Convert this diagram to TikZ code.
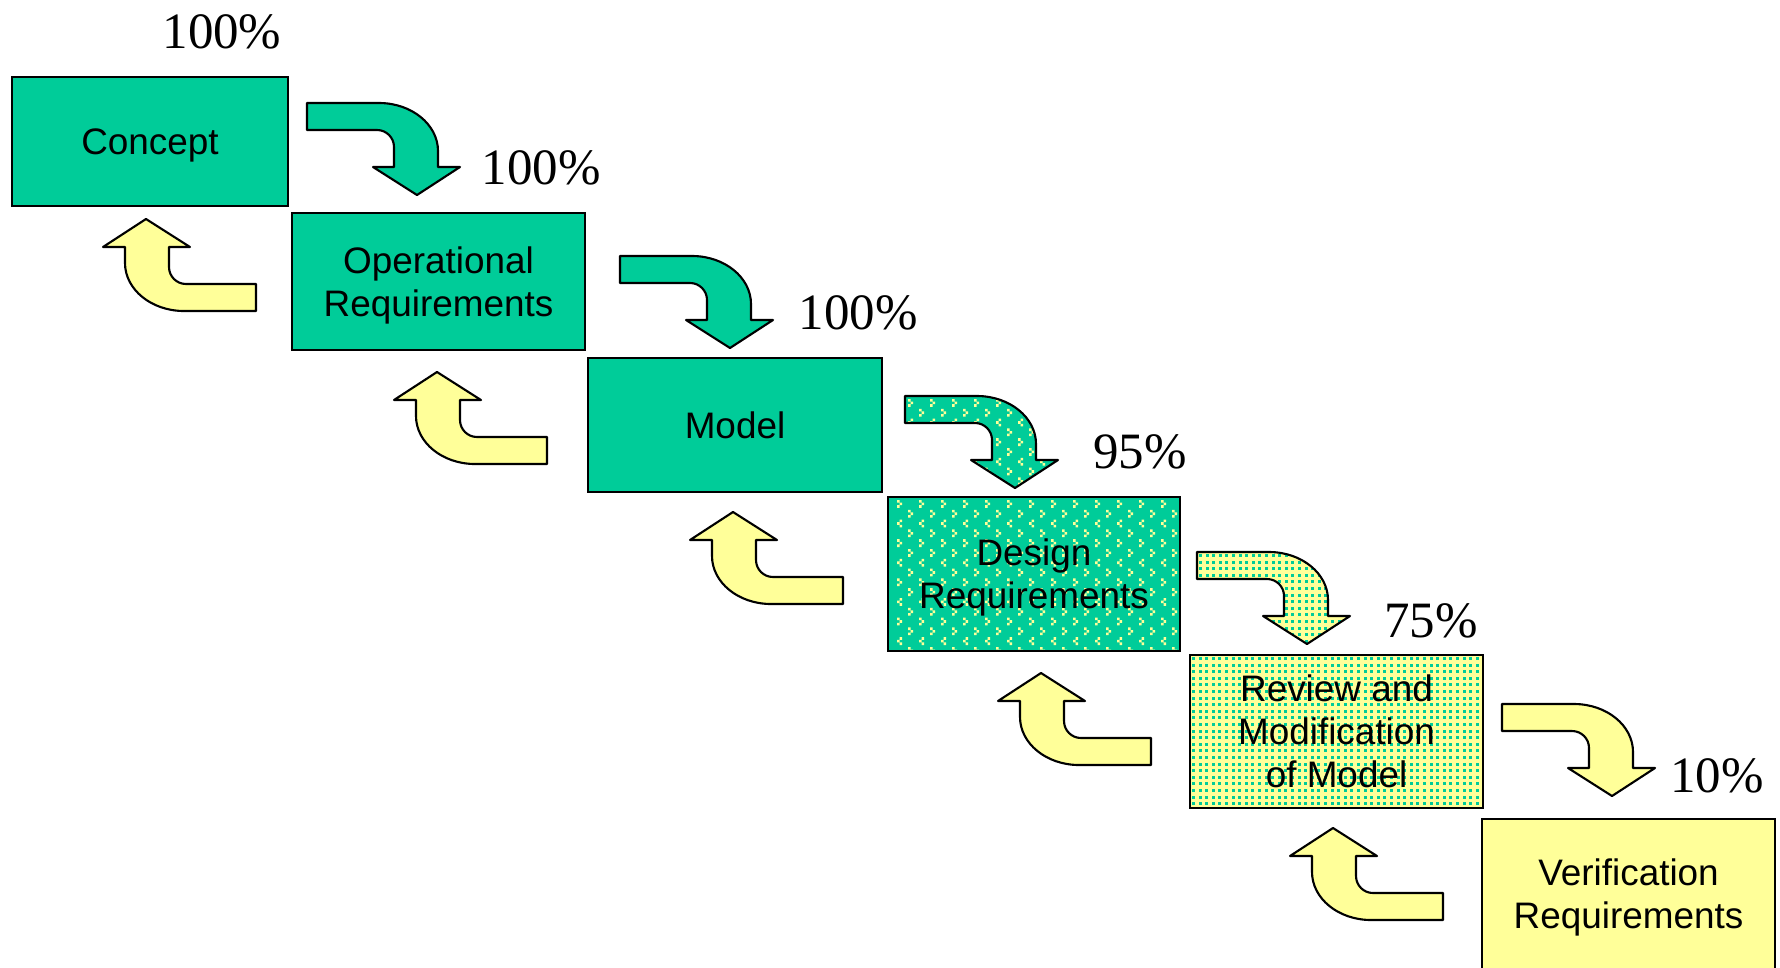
\documentclass[tikz,border=0pt]{standalone}
\usepackage{fontspec}
\setmainfont{Liberation Serif}
\setsansfont{Liberation Sans}

\definecolor{sea}{HTML}{00CC99}
\definecolor{cream}{HTML}{FFFF99}

\pgfdeclarelayer{bg}
\pgfsetlayers{bg,main}

\newcommand\boxfont{\sffamily\fontsize{21}{24.5}\selectfont}
\newcommand\pctfont{\rmfamily\fontsize{29}{34}\selectfont}

% bent arrow pointing down (local pixel units, y downwards)
\newcommand\dnarrowpath{(0,0) -- (72,0) .. controls (104.6,0) and (131,21.5) .. (131,48)
  -- (131,64) -- (153,64) -- (110,92) -- (66,64) -- (87,64) -- (87,44)
  .. controls (87,34.6) and (79.4,27) .. (70,27) -- (0,27) -- cycle}
% the same arrow turned half way round, pointing up
\newcommand\uparrowpath{(153,92) -- (81,92) .. controls (48.4,92) and (22,70.5) .. (22,44)
  -- (22,28) -- (0,28) -- (43,0) -- (87,28) -- (66,28) -- (66,48)
  .. controls (66,57.4) and (73.6,65) .. (83,65) -- (153,65) -- cycle}

% square grid of sea-green dots
\newcommand\gridDots[4]{%
  \foreach \c in {0,...,#3}{\foreach \r in {0,...,#4}{%
    \fill[sea] ({#1+\c*6.6},{#2+\r*6.6}) rectangle ++(3,3);}}}

% staggered rows of small cream chevrons
\newcommand\chevronDots[4]{%
  \foreach \r in {0,...,#4}{\foreach \c in {0,...,#3}{%
    \pgfmathsetmacro\mx{#1+\c*22+mod(\r,2)*11}%
    \pgfmathsetmacro\my{#2+\r*9.8}%
    \pgfmathtruncatemacro\kind{mod(\r,4)}%
    \ifnum\kind=2
      \fill[cream] (\mx+2.6,\my) rectangle ++(2.6,2.6)
                   (\mx,\my+2.6) rectangle ++(2.6,2.6)
                   (\mx+2.6,\my+5.2) rectangle ++(2.6,2.6);
    \else
      \fill[cream] (\mx,\my) rectangle ++(2.6,2.6)
                   (\mx+2.6,\my+2.6) rectangle ++(2.6,2.6)
                   (\mx,\my+5.2) rectangle ++(2.6,2.6);
    \fi}}}

\tikzset{
  wh/.style 2 args={minimum width={#1*0.02cm}, minimum height={#2*0.02cm}},
  stagebox/.style={draw, line width=1.1pt, inner sep=0pt, text depth=0pt,
    align=center, font=\boxfont},
  pct/.style={anchor=base, inner sep=0pt, font=\pctfont},
  arrowline/.style={draw, line width=1.2pt, line join=round},
}

\begin{document}
\begin{tikzpicture}[x=0.02cm, y=-0.02cm]
\useasboundingbox (0,0) rectangle (1780,967);
\begin{pgfonlayer}{bg}
  \fill[white] (0,0) rectangle (1780,967);
\end{pgfonlayer}
\clip (0,0) rectangle (1780,967);

% ---- stages ----
\node[stagebox, fill=sea, wh={276}{129}] (concept) at (150,141.5) {Concept};
\node[stagebox, fill=sea, wh={293}{137}] (oper) at (438.5,281.5) {Operational\\Requirements};
\node[stagebox, fill=sea, wh={294}{134}] (model) at (735,425) {Model};
\node[stagebox, wh={292}{154}] (design) at (1034,574) {Design\\Requirements};
\node[stagebox, wh={293}{153}] (review) at (1336.5,731.5) {Review and\\Modification\\of Model};
\node[stagebox, fill=cream, wh={293}{150}] (verif) at (1628.5,894) {Verification\\Requirements};

% patterned fills behind the two partly finished stages
\begin{pgfonlayer}{bg}
  \fill[sea] (design.north west) rectangle (design.south east);
  \begin{scope}
    \clip (design.north west) rectangle (design.south east);
    \chevronDots{897}{500}{13}{15}
  \end{scope}
  \fill[cream] (review.north west) rectangle (review.south east);
  \begin{scope}
    \clip (review.north west) rectangle (review.south east);
    \gridDots{1192}{657}{44}{23}
  \end{scope}
\end{pgfonlayer}

% ---- completion figures ----
\node[pct] (p1) at (222,48) {100\%};
\node[pct] (p2) at (541,184) {100\%};
\node[pct] (p3) at (858,329) {100\%};
\node[pct] (p4) at (1140,468) {95\%};
\node[pct] (p5) at (1431,637) {75\%};
\node[pct] (p6) at (1717,792) {10\%};

% ---- forward arrows ----
\begin{scope}[shift={(307,103)}]
  \path[arrowline, fill=sea] \dnarrowpath;
\end{scope}
\begin{scope}[shift={(620,256)}]
  \path[arrowline, fill=sea] \dnarrowpath;
\end{scope}
\begin{scope}[shift={(905,396)}]
  \fill[sea] \dnarrowpath;
  \begin{scope}
    \clip \dnarrowpath;
    \chevronDots{3}{3}{7}{9}
  \end{scope}
  \path[arrowline] \dnarrowpath;
\end{scope}
\begin{scope}[shift={(1197,552)}]
  \fill[cream] \dnarrowpath;
  \begin{scope}
    \clip \dnarrowpath;
    \gridDots{2}{2}{23}{14}
  \end{scope}
  \path[arrowline] \dnarrowpath;
\end{scope}
\begin{scope}[shift={(1502,704)}]
  \path[arrowline, fill=cream] \dnarrowpath;
\end{scope}

% ---- feedback arrows ----
\begin{scope}[shift={(103,219)}]
  \path[arrowline, fill=cream] \uparrowpath;
\end{scope}
\begin{scope}[shift={(394,372)}]
  \path[arrowline, fill=cream] \uparrowpath;
\end{scope}
\begin{scope}[shift={(690,512)}]
  \path[arrowline, fill=cream] \uparrowpath;
\end{scope}
\begin{scope}[shift={(998,673)}]
  \path[arrowline, fill=cream] \uparrowpath;
\end{scope}
\begin{scope}[shift={(1290,828)}]
  \path[arrowline, fill=cream] \uparrowpath;
\end{scope}
\end{tikzpicture}
\end{document}
